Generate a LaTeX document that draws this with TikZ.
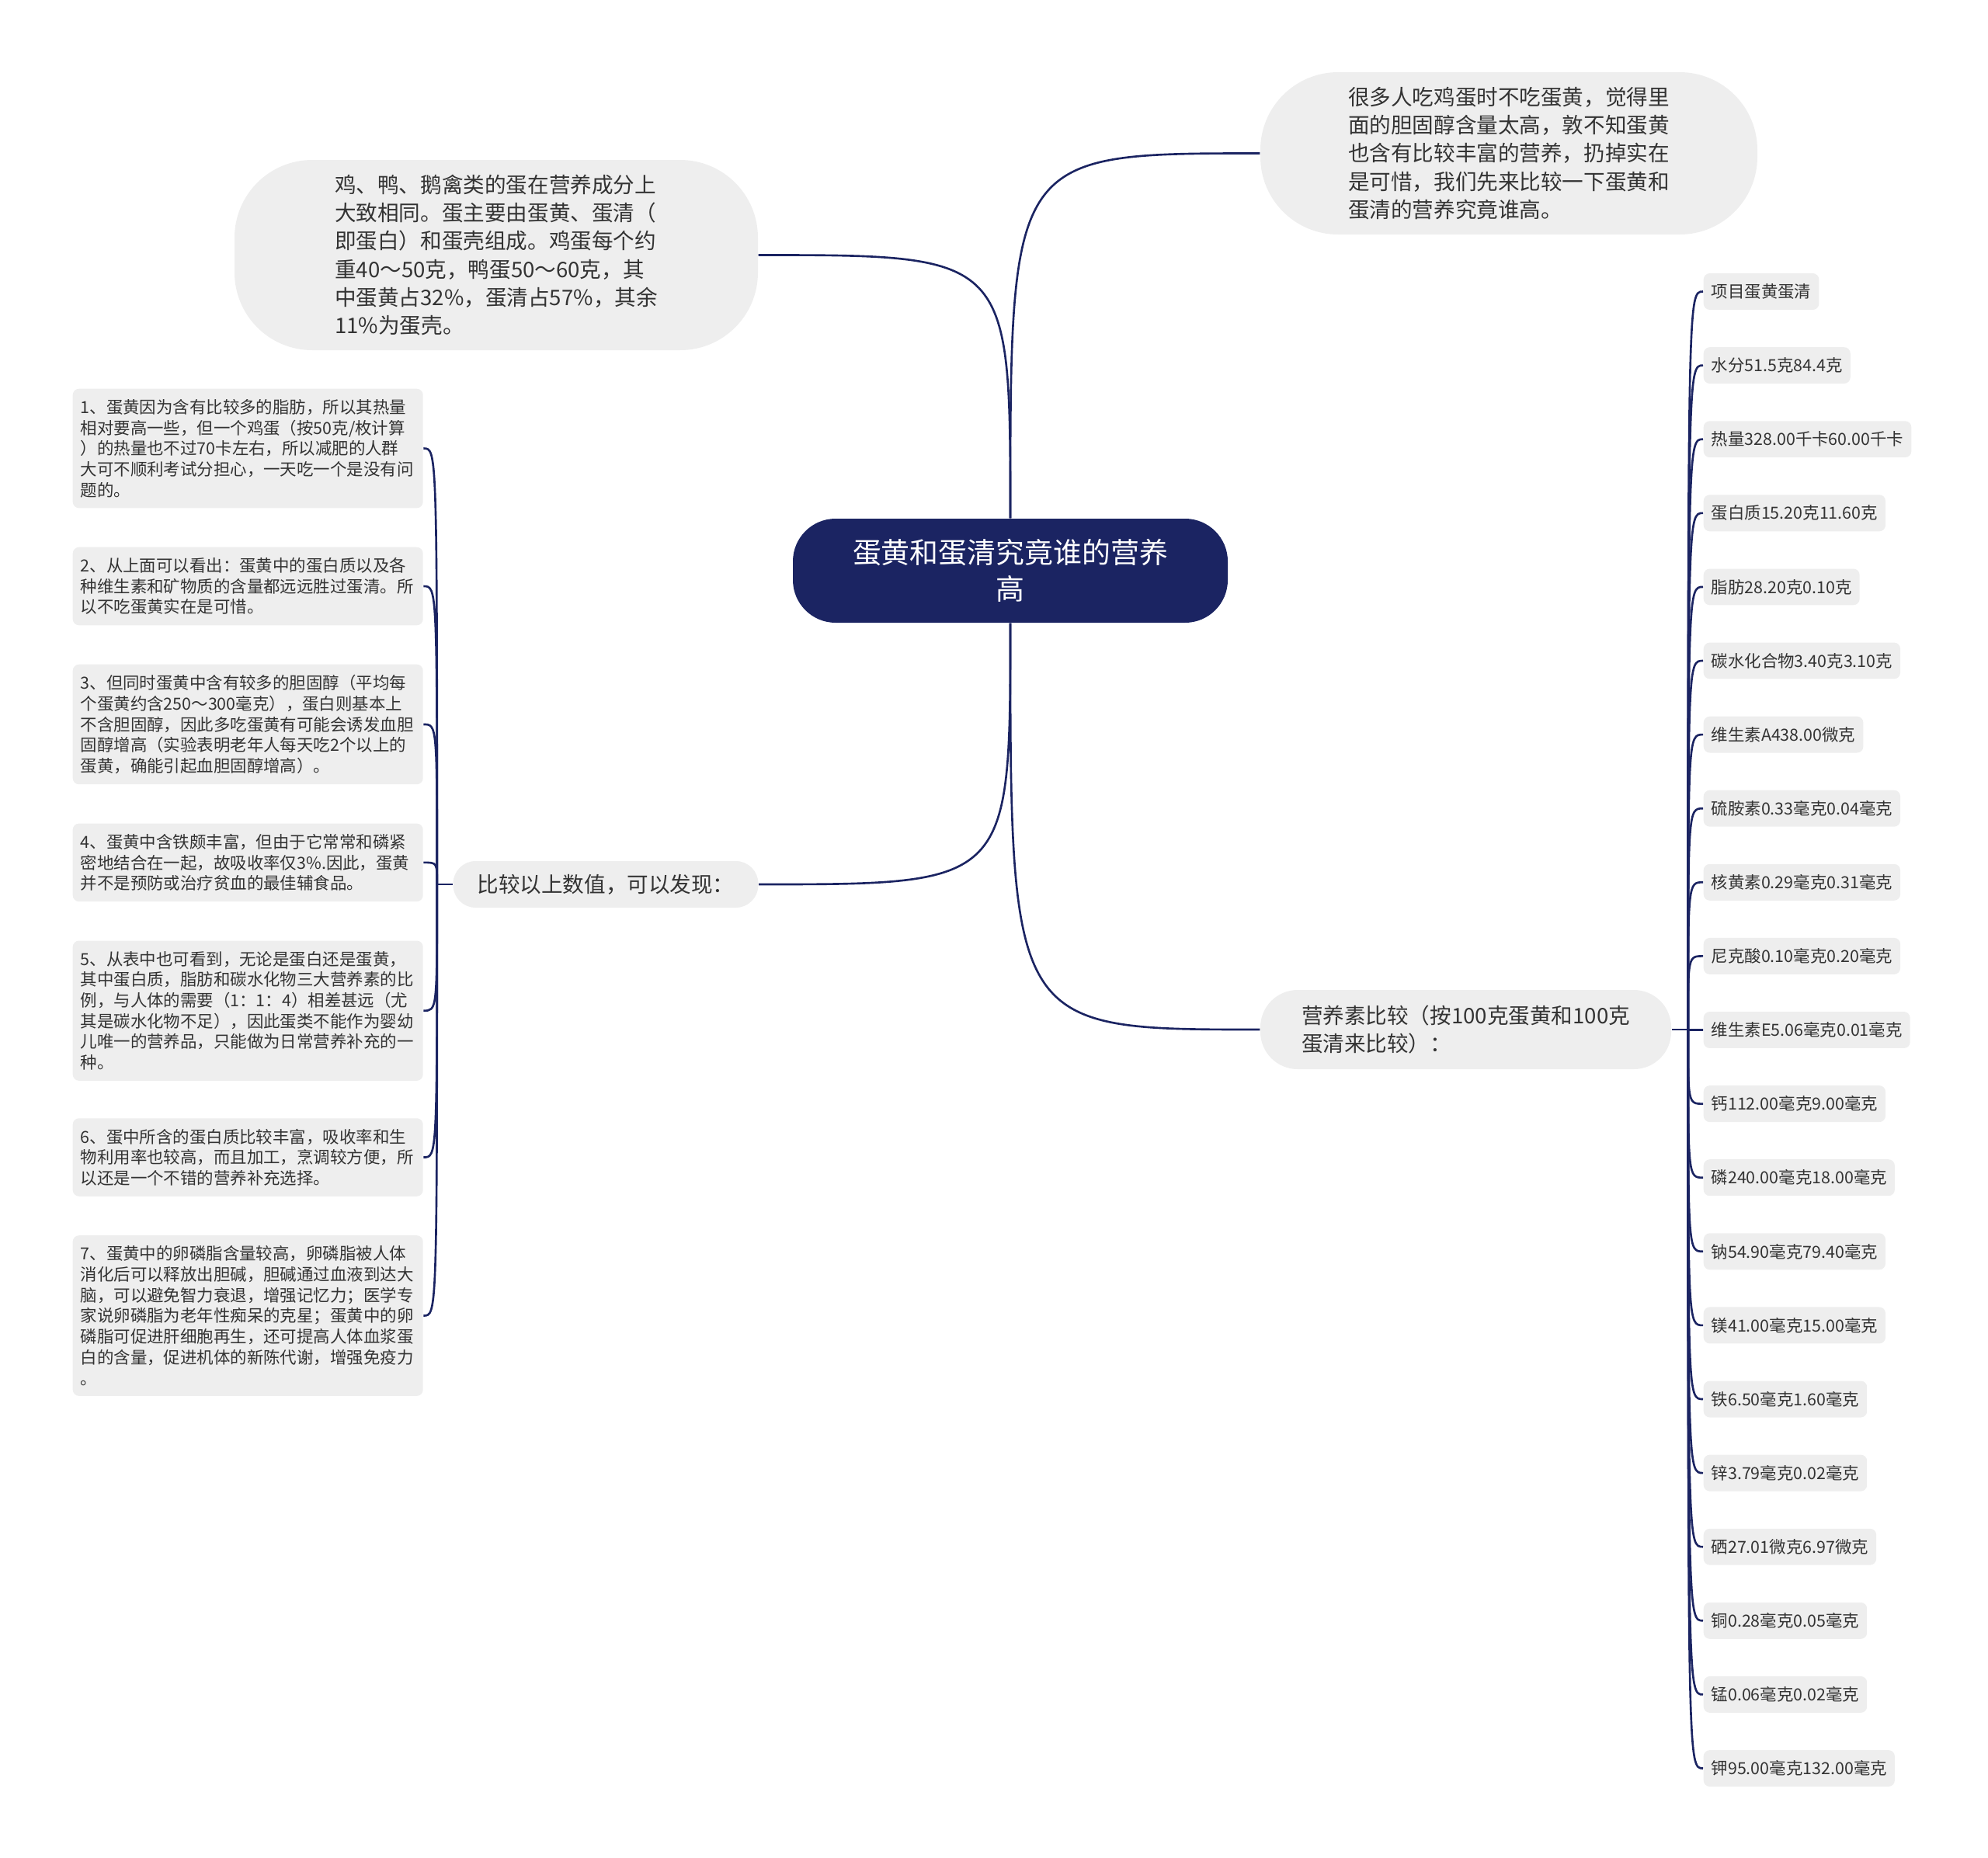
\documentclass[tikz,border=0pt]{standalone}
\usepackage{fontspec}
\setmainfont{Noto Sans CJK SC}
\usetikzlibrary{positioning}
\definecolor{navyc}{HTML}{1B2462}
\definecolor{boxf}{HTML}{EEEEEE}
\definecolor{txt}{HTML}{333333}

\begin{document}
\begin{tikzpicture}[
  rootbox/.style={fill=navyc,text=white,rounded corners=5.5mm,align=center,minimum width=5.6cm,minimum height=1.34cm,font=\fontsize{10.5pt}{13.4pt}\selectfont},
  topic/.style={fill=boxf,text=txt,align=left,inner ysep=1.9mm,font=\fontsize{7.85pt}{10.3pt}\selectfont},
  leaf/.style={fill=boxf,text=txt,rounded corners=0.8mm,align=left,inner xsep=1mm,inner ysep=1.35mm,font=\fontsize{6.1pt}{7.6pt}\selectfont},
  note/.style={leaf,text width=4.31cm},
  link/.style={draw=navyc,line width=0.75pt}]
\useasboundingbox (0,0) rectangle (25.6,-23.93);
\node[rootbox] (R) at (13.01,-7.35) {蛋黄和蛋清究竟谁的营养\\高};
\node[topic,rounded corners=1cm,minimum width=6.74cm,minimum height=2.45cm] (A) at (6.39,-3.285) {鸡、鸭、鹅禽类的蛋在营养成分上\\大致相同。蛋主要由蛋黄、蛋清（\\即蛋白）和蛋壳组成。鸡蛋每个约\\重40～50克，鸭蛋50～60克，其\\中蛋黄占32\%，蛋清占57\%，其余\\11\%为蛋壳。};
\node[topic,rounded corners=1cm,minimum width=6.40cm,minimum height=2.09cm] (B) at (19.43,-1.975) {很多人吃鸡蛋时不吃蛋黄，觉得里\\面的胆固醇含量太高，敦不知蛋黄\\也含有比较丰富的营养，扔掉实在\\是可惜，我们先来比较一下蛋黄和\\蛋清的营养究竟谁高。};
\node[topic,rounded corners=2.9mm,inner ysep=1.6mm,minimum width=3.93cm,minimum height=0.6cm] (C) at (7.80,-11.39) {比较以上数值，可以发现：};
\node[topic,rounded corners=4.8mm,minimum width=5.29cm,minimum height=1.02cm] (D) at (18.875,-13.26) {营养素比较（按100克蛋黄和100克\\蛋清来比较）：};
% left notes
\node[note,anchor=north west] (L1) at (0.93,-5.00) {1、蛋黄因为含有比较多的脂肪，所以其热量\\相对要高一些，但一个鸡蛋（按50克/枚计算\\）的热量也不过70卡左右，所以减肥的人群\\大可不顺利考试分担心，一天吃一个是没有问\\题的。};
\node[note,below=0.49cm of L1] (L2) {2、从上面可以看出：蛋黄中的蛋白质以及各\\种维生素和矿物质的含量都远远胜过蛋清。所\\以不吃蛋黄实在是可惜。};
\node[note,below=0.49cm of L2] (L3) {3、但同时蛋黄中含有较多的胆固醇（平均每\\个蛋黄约含250～300毫克），蛋白则基本上\\不含胆固醇，因此多吃蛋黄有可能会诱发血胆\\固醇增高（实验表明老年人每天吃2个以上的\\蛋黄，确能引起血胆固醇增高）。};
\node[note,below=0.49cm of L3] (L4) {4、蛋黄中含铁颇丰富，但由于它常常和磷紧\\密地结合在一起，故吸收率仅3\%.因此，蛋黄\\并不是预防或治疗贫血的最佳辅食品。};
\node[note,below=0.49cm of L4] (L5) {5、从表中也可看到，无论是蛋白还是蛋黄，\\其中蛋白质，脂肪和碳水化物三大营养素的比\\例，与人体的需要（1：1：4）相差甚远（尤\\其是碳水化物不足），因此蛋类不能作为婴幼\\儿唯一的营养品，只能做为日常营养补充的一\\种。};
\node[note,below=0.47cm of L5] (L6) {6、蛋中所含的蛋白质比较丰富，吸收率和生\\物利用率也较高，而且加工，烹调较方便，所\\以还是一个不错的营养补充选择。};
\node[note,below=0.49cm of L6] (L7) {7、蛋黄中的卵磷脂含量较高，卵磷脂被人体\\消化后可以释放出胆碱，胆碱通过血液到达大\\脑，可以避免智力衰退，增强记忆力；医学专\\家说卵磷脂为老年性痴呆的克星；蛋黄中的卵\\磷脂可促进肝细胞再生，还可提高人体血浆蛋\\白的含量，促进机体的新陈代谢，增强免疫力\\。};
% nutrient table
\foreach \t [count=\i from 0] in {项目蛋黄蛋清,水分51.5克84.4克,热量328.00千卡60.00千卡,蛋白质15.20克11.60克,脂肪28.20克0.10克,碳水化合物3.40克3.10克,维生素A438.00微克,硫胺素0.33毫克0.04毫克,核黄素0.29毫克0.31毫克,尼克酸0.10毫克0.20毫克,维生素E5.06毫克0.01毫克,钙112.00毫克9.00毫克,磷240.00毫克18.00毫克,钠54.90毫克79.40毫克,镁41.00毫克15.00毫克,铁6.50毫克1.60毫克,锌3.79毫克0.02毫克,硒27.01微克6.97微克,铜0.28毫克0.05毫克,锰0.06毫克0.02毫克,钾95.00毫克132.00毫克}
  \node[leaf,anchor=west] (r\i) at (21.93,-3.755-0.951*\i) {\t};
% branches
\draw[link] (R.north) .. controls (R.north |- A.east) .. (A.east);
\draw[link] (R.north) .. controls (R.north |- B.west) .. (B.west);
\draw[link] (R.south) .. controls (R.south |- C.east) .. (C.east);
\draw[link] (R.south) .. controls (R.south |- D.west) .. (D.west);
\draw[link] (C.west) -- ++(-0.2,0) coordinate (cl);
\foreach \n in {L1,L2,L3,L4,L5,L6,L7} \draw[link] (cl) .. controls (cl |- \n.east) .. (\n.east);
\draw[link] (D.east) -- ++(0.21,0) coordinate (cr);
\foreach \i in {0,...,20} \draw[link] (cr) .. controls (cr |- r\i.west) .. (r\i.west);
\end{tikzpicture}
\end{document}
